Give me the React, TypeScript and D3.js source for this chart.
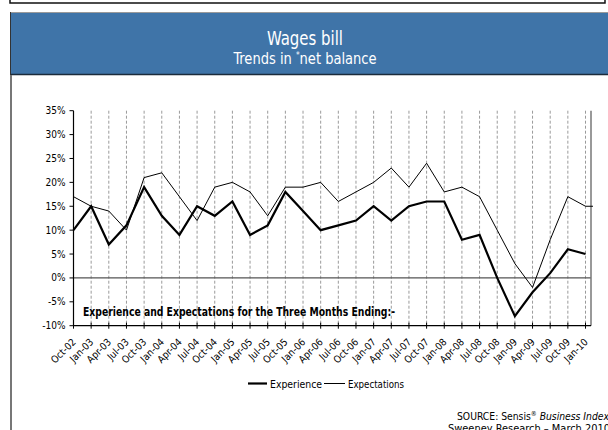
import React from "react";
import * as d3 from "d3";

const categories = [
  "Oct-02", "Jan-03", "Apr-03", "Jul-03", "Oct-03", "Jan-04", "Apr-04", "Jul-04",
  "Oct-04", "Jan-05", "Apr-05", "Jul-05", "Oct-05", "Jan-06", "Apr-06", "Jul-06",
  "Oct-06", "Jan-07", "Apr-07", "Jul-07", "Oct-07", "Jan-08", "Apr-08", "Jul-08",
  "Oct-08", "Jan-09", "Apr-09", "Jul-09", "Oct-09", "Jan-10",
];
const experience = [10, 15, 7, 11, 19, 13, 9, 15, 13, 16, 9, 11, 18, 14, 10, 11, 12, 15, 12, 15, 16, 16, 8, 9, 0, -8, -3, 1, 6, 5];
const expectations = [17, 15, 14, 10, 21, 22, 17, 12, 19, 20, 18, 13, 19, 19, 20, 16, 18, 20, 23, 19, 24, 18, 19, 17, 10, 3, -2, 8, 17, 15];
const yTicks = [-10, -5, 0, 5, 10, 15, 20, 25, 30, 35];

const FONT = "'DejaVu Sans Condensed', 'Liberation Sans', sans-serif";
const TICKFONT = "'DejaVu Sans Condensed', 'Liberation Sans', sans-serif";

export default function App() {
  const W = 608, H = 430;
  const left = 73.5, right = 585.5, plotRight = 591, top = 110.7, bottom = 325.7;
  const x = d3.scalePoint<string>().domain(categories).range([left, right]);
  const y = d3.scaleLinear().domain([-10, 35]).range([bottom, top]);
  const line = d3.line<number>().x((_, i) => x(categories[i]) as number).y((d) => y(d));
  const lastX = x(categories[categories.length - 1]) as number;
  const lastExp = expectations[expectations.length - 1];

  return (
    <svg width={W} height={H} style={{ position: "absolute", left: 0, top: 0, background: "#fff" }}>
      {/* top box remnant */}
      <path d="M10,0 V3 H605 V0" fill="none" stroke="#111" strokeWidth={1.5} />
      {/* header */}
      <rect x={10} y={12} width={600} height={63} fill="#3f74a8" />
      <line x1={10} x2={608} y1={12.5} y2={12.5} stroke="#9a9a9a" strokeWidth={1} />
      <line x1={10} x2={608} y1={74.5} y2={74.5} stroke="#1b2b3b" strokeWidth={1.5} />
      <line x1={10.5} x2={10.5} y1={12} y2={75} stroke="#333" strokeWidth={1} />
      <line x1={11} x2={11} y1={75} y2={430} stroke="#777" strokeWidth={2} />
      <text x={305} y={45} textAnchor="middle" fill="#fff" fontFamily={FONT} fontSize={19} textLength={76} lengthAdjust="spacingAndGlyphs">Wages bill</text>
      <text x={305} y={64} textAnchor="middle" fill="#fff" fontFamily={FONT} fontSize={16} textLength={143} lengthAdjust="spacingAndGlyphs">
        Trends in <tspan fontSize={9} dy={-6}>*</tspan><tspan dy={6}>net balance</tspan>
      </text>

      {/* gridlines */}
      {categories.slice(1).map((c) => (
        <line key={c} x1={x(c)} x2={x(c)} y1={top} y2={bottom} stroke="#9a9a9a" strokeWidth={1} strokeDasharray="3,2" />
      ))}
      {/* zero line */}
      <line x1={left} x2={plotRight} y1={y(0)} y2={y(0)} stroke="#555" strokeWidth={1.2} />
      {/* right border */}
      <line x1={plotRight} x2={plotRight} y1={top} y2={bottom} stroke="#777" strokeWidth={1.5} />
      {/* axes */}
      <line x1={left} x2={left} y1={top} y2={bottom} stroke="#000" strokeWidth={1.2} />
      <line x1={left} x2={plotRight} y1={bottom} y2={bottom} stroke="#000" strokeWidth={1.2} />
      {yTicks.map((t) => (
        <g key={t}>
          <line x1={left - 4} x2={left} y1={y(t)} y2={y(t)} stroke="#000" />
          <text x={left - 8} y={y(t) + 3.5} textAnchor="end" fontFamily={TICKFONT} fontSize={10} fill="#000">{t}%</text>
        </g>
      ))}
      {categories.map((c) => (
        <g key={c}>
          <line x1={x(c)} x2={x(c)} y1={bottom - 3} y2={bottom + 3} stroke="#000" />
          <text
            transform={`translate(${(x(c) as number) + 3},${bottom + 17}) rotate(-45)`}
            textAnchor="end" fontFamily={TICKFONT} fontSize={10} fill="#000"
          >{c}</text>
        </g>
      ))}

      {/* series */}
      <path d={line(expectations) || ""} fill="none" stroke="#000" strokeWidth={1} />
      <line x1={lastX} x2={plotRight + 2} y1={y(lastExp)} y2={y(lastExp)} stroke="#000" strokeWidth={1} />
      <path d={line(experience) || ""} fill="none" stroke="#000" strokeWidth={2.2} strokeLinejoin="miter" />

      <text x={83} y={316} fontFamily={FONT} fontSize={11.5} fontWeight="bold" fill="#000" textLength={312} lengthAdjust="spacingAndGlyphs">
        Experience and Expectations for the Three Months Ending:-
      </text>

      {/* legend */}
      <line x1={248} x2={267} y1={383.5} y2={383.5} stroke="#000" strokeWidth={2.2} />
      <text x={270} y={387.5} fontFamily={FONT} fontSize={11} fill="#000" textLength={52} lengthAdjust="spacingAndGlyphs">Experience</text>
      <line x1={324} x2={345} y1={383.5} y2={383.5} stroke="#000" strokeWidth={1} />
      <text x={348} y={387.5} fontFamily={FONT} fontSize={11} fill="#000" textLength={56} lengthAdjust="spacingAndGlyphs">Expectations</text>

      {/* source */}
      <text x={457} y={420} fontFamily={FONT} fontSize={11} fill="#000" textLength={152} lengthAdjust="spacingAndGlyphs">
        SOURCE: Sensis<tspan fontSize={7} dy={-4}>®</tspan><tspan dy={4} fontStyle="italic"> Business Index</tspan>
      </text>
      <text x={448} y={432} fontFamily={FONT} fontSize={11} fill="#000" textLength={162} lengthAdjust="spacingAndGlyphs">
        Sweeney Research – March 2010
      </text>
    </svg>
  );
}
